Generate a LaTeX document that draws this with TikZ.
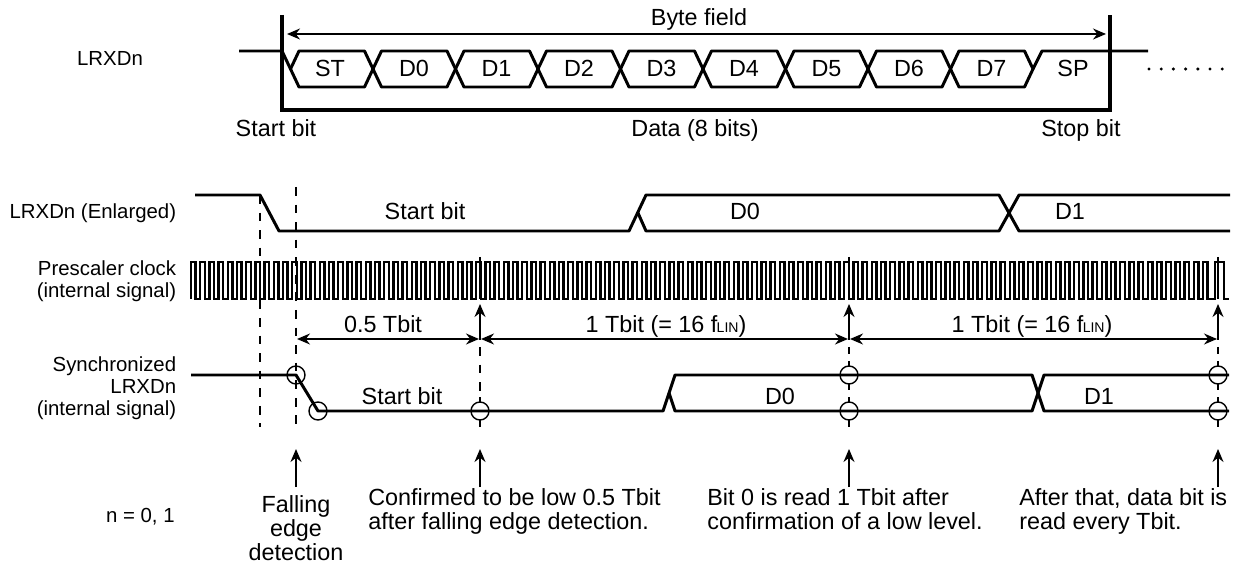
\documentclass[tikz,border=0pt]{standalone}
\usepackage{fontspec}
\setmainfont{Liberation Sans}
\usetikzlibrary{arrows.meta}
\tikzset{
  bigtext/.style={font=\fontsize{13.3}{13.6}\selectfont, inner sep=0pt},
  sidetext/.style={font=\fontsize{11.6}{12.6}\selectfont, inner sep=0pt},
  signal/.style={line width=1.7pt, line join=round},
  frameline/.style={line width=2pt},
  guide/.style={line width=0.8pt, dash pattern=on 5pt off 5pt},
  tick/.style={line width=0.8pt},
  probe/.style={line width=0.8pt},
  dimline/.style={line width=0.8pt, {Stealth[length=2.6mm,width=2.2mm]}-{Stealth[length=2.6mm,width=2.2mm]}},
  uparrow/.style={line width=0.9pt, -{Stealth[length=2.6mm,width=2.2mm]}}
}
\begin{document}
\begin{tikzpicture}[x=0.02cm,y=-0.02cm]
  \useasboundingbox (0,0) rectangle (1239,563);
  % byte frame
  \draw[frameline] (282,15) -- (282,110) -- (1110,110) -- (1110,15);
  \coordinate (byteL) at (287,34);
  \coordinate (byteR) at (1106,34);
  \draw[dimline] (byteL) -- (byteR);
  \node[bigtext, anchor=base] (bytefield) at (699,26) {Byte field};
  % byte row
  \draw[signal] (239,51) -- (282,51) -- (290.5,69);
  \foreach \i in {0,...,8} {
    \pgfmathsetmacro{\xa}{290.5+82.5*\i}
    \pgfmathsetmacro{\xb}{290.5+82.5*(\i+1)}
    \draw[signal] (\xa,69) -- (\xa+8.5,51) -- (\xb-8.5,51) -- (\xb,69) -- (\xb-8.5,87) -- (\xa+8.5,87) -- cycle;
  }
  \draw[signal] (1033,69) -- (1042,51) -- (1148,51);
  \node[bigtext, anchor=base] (st) at (330,77) {ST};
  \foreach \lab [count=\i from 0] in {D0,D1,D2,D3,D4,D5,D6,D7} {
    \node[bigtext, anchor=base] (d\i) at (414+82.5*\i,77) {\lab};
  }
  \node[bigtext, anchor=base] (sp) at (1073,77) {SP};
  \foreach \k in {0,...,6}
    \fill (1149+12.2*\k,69) circle (1.7);
  \node[bigtext, anchor=base] (startbit) at (276,137) {Start bit};
  \node[bigtext, anchor=base] (databits) at (695,137) {Data (8 bits)};
  \node[bigtext, anchor=base] (stopbit) at (1081,137) {Stop bit};
  % row names
  \node[sidetext, anchor=base] (rowtop) at (110,66) {LRXDn};
  \node[sidetext, anchor=base east] (rowenl) at (176.5,219) {LRXDn (Enlarged)};
  \node[sidetext, anchor=east, align=right] (rowclk) at (176.5,281) {Prescaler clock\\(internal signal)};
  \node[sidetext, anchor=east, align=right] (rowsync) at (176.5,388) {Synchronized\\LRXDn\\(internal signal)};
  \node[sidetext, anchor=base east] (rown) at (175,522) {n = 0, 1};
  % enlarged row
  \draw[signal] (195,195) -- (260,195) -- (279,231) -- (629,231) -- (646,195) -- (999,195) -- (1019,231) -- (1230,231);
  \draw[signal] (638,213) -- (646,231) -- (999,231) -- (1019,195) -- (1230,195);
  \node[bigtext, anchor=base] (enlstart) at (425,220) {Start bit};
  \node[bigtext, anchor=base] (enld0) at (745,220) {D0};
  \node[bigtext, anchor=base] (enld1) at (1070,220) {D1};
  % clock
  \draw[line width=1.3pt, line join=miter] (191,299)
    \foreach \k in {0,...,110} { -- ++(0,-37) -- ++(4.6,0) -- ++(0,37) -- ++(4.6,0) }
    -- (1215,299) -- (1215,262) -- (1224,262) -- (1224,299) -- (1229,299);
  % guides
  \draw[guide] (260,195) -- (260,427);
  \draw[guide] (296,187) -- (296,427);
  \foreach \x in {480,849,1218} {
    \draw[tick] (\x,257) -- (\x,299);
    \draw[tick] (\x,397) -- (\x,402);
    \draw[tick] (\x,420) -- (\x,427);
  }
  \draw[guide] (480,347) -- (480,394);
  \foreach \x in {849,1218} {
    \draw[tick] (\x,347) -- (\x,354);
    \draw[tick] (\x,361) -- (\x,366);
    \draw[tick] (\x,384) -- (\x,390);
  }
  % spans
  \coordinate (s0) at (297,339);
  \coordinate (s1a) at (479,339);
  \coordinate (s1b) at (481,339);
  \coordinate (s2a) at (848,339);
  \coordinate (s2b) at (850,339);
  \coordinate (s3) at (1217,339);
  \draw[dimline] (s0) -- (s1a);
  \draw[dimline] (s1b) -- (s2a);
  \draw[dimline] (s2b) -- (s3);
  \foreach \x/\nm in {480/a,849/b,1218/c} {
    \coordinate (up\nm) at (\x,340);
    \coordinate (ut\nm) at (\x,304);
    \draw[uparrow] (up\nm) -- (ut\nm);
  }
  \node[bigtext, anchor=base] (half) at (383,333) {0.5 Tbit};
  \node[bigtext, anchor=base] (onea) at (666,333) {1 Tbit (= 16 f\kern-0.4pt{\fontsize{8}{8}\selectfont LIN})};
  \node[bigtext, anchor=base] (oneb) at (1032,333) {1 Tbit (= 16 f\kern-0.4pt{\fontsize{8}{8}\selectfont LIN})};
  % synchronized row
  \draw[signal] (191,375) -- (296,375) -- (318,411) -- (663,411) -- (675,375) -- (1032,375) -- (1044,411) -- (1229,411);
  \draw[signal] (669,393) -- (675,411) -- (1032,411) -- (1044,375) -- (1229,375);
  \node[bigtext, anchor=base] (synstart) at (402,404) {Start bit};
  \node[bigtext, anchor=base] (synd0) at (780,404) {D0};
  \node[bigtext, anchor=base] (synd1) at (1099,404) {D1};
  \foreach \x/\y in {296/375,318/411,480/411,849/375,849/411,1218/375,1218/411}
    \draw[probe] (\x,\y) circle (9);
  % bottom arrows
  \foreach \x/\nm in {296/a,480/b,849/c,1218/d} {
    \coordinate (bot\nm) at (\x,487);
    \coordinate (top\nm) at (\x,449);
    \draw[uparrow] (bot\nm) -- (top\nm);
  }
  \node[bigtext, anchor=north, align=center] (falling) at (296,495) {Falling\\edge\\detection};
  \node[bigtext, anchor=north west, align=left] (confirmed) at (368,488) {Confirmed to be low 0.5 Tbit\\after falling edge detection.};
  \node[bigtext, anchor=north west, align=left] (bitzero) at (707,488) {Bit 0 is read 1 Tbit after\\confirmation of a low level.};
  \node[bigtext, anchor=north west, align=left] (after) at (1019,488) {After that, data bit is\\read every Tbit.};
\end{tikzpicture}
\end{document}
